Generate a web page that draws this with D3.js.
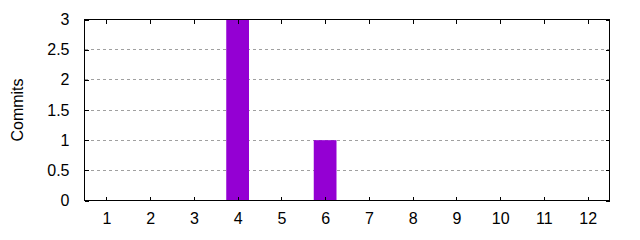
<!DOCTYPE html>
<meta charset="utf-8">
<style>
body { margin: 0; }
svg { display: block; font-family: "Liberation Sans", Arial, sans-serif; }
.grid line { stroke: #a0a0a0; stroke-dasharray: 3,3; shape-rendering: crispEdges; }
.axis path { display: none; }
.axis line { stroke: #000; shape-rendering: crispEdges; }
.axis text { font-size: 16px; fill: #000; font-family: "Liberation Sans", Arial, sans-serif; }
.frame { fill: none; stroke: #000; shape-rendering: crispEdges; }
</style>
<svg width="640" height="240"></svg>
<script src="https://d3js.org/d3.v7.min.js"></script>
<script>

var months = [1, 2, 3, 4, 5, 6, 7, 8, 9, 10, 11, 12];
var commits = [0, 0, 0, 3, 0, 1, 0, 0, 0, 0, 0, 0];
var yTicks = [0, 0.5, 1, 1.5, 2, 2.5, 3];

var svg = d3.select("svg"),
    plotLeft = 84.5, plotRight = 609.5, plotTop = 19.5, plotBottom = 200.5;

var x = d3.scaleLinear().domain([0.5, 12.5]).range([plotLeft, plotRight]);
var y = d3.scaleLinear().domain([0, 3]).range([plotBottom, plotTop]);

svg.append("g")
    .attr("class", "grid")
  .selectAll("line")
  .data(yTicks.slice(1, -1))
  .enter().append("line")
    .attr("x1", plotLeft).attr("x2", plotRight)
    .attr("y1", function(d) { return y(d); })
    .attr("y2", function(d) { return y(d); });

var bw = x(1.52) - x(1);
svg.append("g")
  .selectAll("rect")
  .data(months)
  .enter().append("rect")
    .attr("x", function(d) { return x(d) - bw / 2; })
    .attr("y", function(d, i) { return y(commits[i]); })
    .attr("width", bw)
    .attr("height", function(d, i) { return plotBottom - y(commits[i]); })
    .attr("fill", "#9400d3");

svg.append("g")
    .attr("class", "axis")
    .attr("transform", "translate(0," + plotBottom + ")")
    .call(d3.axisBottom(x).tickValues(months).tickSize(-4).tickPadding(12).tickFormat(d3.format("d")));

svg.append("g")
    .attr("class", "axis")
    .attr("transform", "translate(0," + plotTop + ")")
    .call(d3.axisTop(x).tickValues(months).tickSize(-4).tickFormat(""));

svg.append("g")
    .attr("class", "axis")
    .attr("transform", "translate(" + plotLeft + ",0)")
    .call(d3.axisLeft(y).tickValues(yTicks).tickSize(-4).tickPadding(15).tickFormat(d3.format("")));

svg.append("g")
    .attr("class", "axis")
    .attr("transform", "translate(" + plotRight + ",0)")
    .call(d3.axisRight(y).tickValues(yTicks).tickSize(-4).tickFormat(""));

svg.append("rect")
    .attr("class", "frame")
    .attr("x", plotLeft).attr("y", plotTop)
    .attr("width", plotRight - plotLeft).attr("height", plotBottom - plotTop);

svg.append("text")
    .attr("transform", "translate(23," + ((plotTop + plotBottom) / 2) + ") rotate(-90)")
    .attr("text-anchor", "middle")
    .style("font-size", "16px")
    .text("Commits");

</script>
